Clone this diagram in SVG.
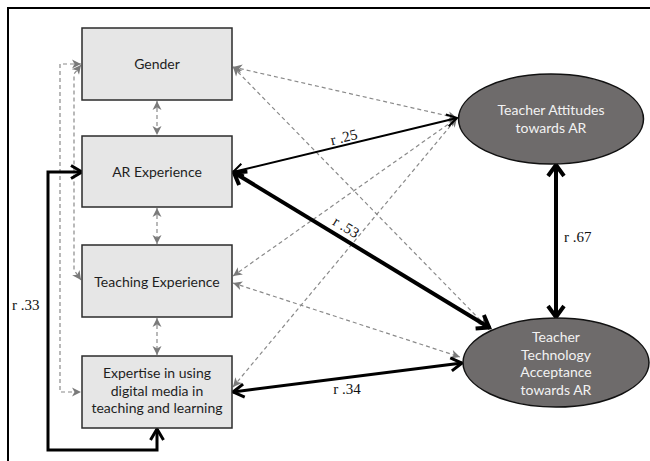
<svg xmlns="http://www.w3.org/2000/svg" width="650" height="461" viewBox="0 0 650 461">
  <style>
    .box { fill: #e6e6e6; stroke: #2b2b2b; stroke-width: 1.5; }
    .oval { fill: #6e6b6b; stroke: #111; stroke-width: 1.5; }
    .lbl { font-family: Lato, "Liberation Sans", sans-serif; font-size: 14px; fill: #1e1e1e; text-anchor: middle; }
    .olbl { font-family: Lato, "Liberation Sans", sans-serif; font-size: 14px; fill: #f2f2f2; text-anchor: middle; }
    .r { font-family: "Liberation Serif", serif; font-size: 15px; fill: #111; }
    .dash { fill: none; stroke: #8a8a8a; stroke-width: 1.2; stroke-dasharray: 4 3; marker-start: url(#gh); marker-end: url(#gh); }
    .solid { fill: none; stroke: #000; }
  </style>
  <defs>
    <marker id="gh" markerUnits="userSpaceOnUse" viewBox="-10 -6 12 12" refX="0" refY="0" markerWidth="12" markerHeight="12" orient="auto-start-reverse">
      <path d="M-9,-4.5 L0,0 L-9,4.5 L-6.5,0 Z" fill="#7a7a7a"/>
    </marker>
    <marker id="a2" markerUnits="userSpaceOnUse" viewBox="-14 -10 18 20" refX="0" refY="0" markerWidth="18" markerHeight="20" orient="auto-start-reverse">
      <path d="M-10,-6 L0,0 L-10,6" fill="none" stroke="#000" stroke-width="2"/>
    </marker>
    <marker id="a3" markerUnits="userSpaceOnUse" viewBox="-14 -10 18 20" refX="0" refY="0" markerWidth="18" markerHeight="20" orient="auto-start-reverse">
      <path d="M-11,-6.5 L0,0 L-11,6.5" fill="none" stroke="#000" stroke-width="3"/>
    </marker>
    <marker id="a4" markerUnits="userSpaceOnUse" viewBox="-16 -12 20 24" refX="0" refY="0" markerWidth="20" markerHeight="24" orient="auto-start-reverse">
      <path d="M-12,-8 L-1,0 L-12,8" fill="none" stroke="#000" stroke-width="4"/>
    </marker>
  </defs>

  <rect width="650" height="461" fill="#fff"/>
  <!-- frame -->
  <rect x="8" y="8" width="700" height="500" fill="none" stroke="#000" stroke-width="2"/>

  <g id="connectors">
    <!-- covariances among predictors -->
    <path class="dash" d="M157,101 V135"/>
    <path class="dash" d="M157,208 V244"/>
    <path class="dash" d="M157,318 V355"/>
    <path class="dash" d="M81,64 H60 V392 H81"/>
    <path class="dash" d="M81,65 L74,74 V270 L81,280"/>
    <!-- non-significant paths -->
    <path class="dash" d="M233,67 L457,118"/>
    <path class="dash" d="M233,67 L487,327"/>
    <path class="dash" d="M233,276 L457,118"/>
    <path class="dash" d="M233,283 L460,357"/>
    <path class="dash" d="M233,387 L457,118"/>
    <!-- significant correlations -->
    <path class="solid" d="M233,172 L457,118" stroke-width="2" marker-start="url(#a2)" marker-end="url(#a2)"/>
    <path class="solid" d="M233,172 L490,328" stroke-width="4" marker-start="url(#a4)" marker-end="url(#a4)"/>
    <path class="solid" d="M233,392 L462,363" stroke-width="3" marker-start="url(#a3)" marker-end="url(#a3)"/>
    <path class="solid" d="M556,164 V318" stroke-width="4" marker-start="url(#a4)" marker-end="url(#a4)"/>
    <path class="solid" d="M82,172 H48 V450 H157 V429" stroke-width="3" marker-start="url(#a3)" marker-end="url(#a3)"/>
    <!-- coefficients -->
    <text class="r" text-anchor="middle" transform="translate(345,142) rotate(-13.5)">r .25</text>
    <text class="r" text-anchor="middle" transform="translate(342,234) rotate(31)" y="-3">r .53</text>
    <text class="r" text-anchor="middle" x="347" y="394">r .34</text>
    <text class="r" x="564" y="242">r .67</text>
    <text class="r" x="12" y="310">r .33</text>
  </g>

  <g id="gender">
    <rect class="box" x="82" y="28" width="150" height="72"/>
    <text class="lbl" x="157" y="69">Gender</text>
  </g>
  <g id="ar-experience">
    <rect class="box" x="82" y="136" width="150" height="71"/>
    <text class="lbl" x="157" y="177">AR Experience</text>
  </g>
  <g id="teaching-experience">
    <rect class="box" x="82" y="245" width="150" height="72"/>
    <text class="lbl" x="157" y="287">Teaching Experience</text>
  </g>
  <g id="digital-expertise">
    <rect class="box" x="82" y="356" width="150" height="72"/>
    <text class="lbl" x="157" y="378">Expertise in using</text>
    <text class="lbl" x="157" y="396">digital media in</text>
    <text class="lbl" x="157" y="413">teaching and learning</text>
  </g>
  <g id="teacher-attitudes">
    <ellipse class="oval" cx="551" cy="119" rx="92.5" ry="45"/>
    <text class="olbl" x="551" y="115">Teacher Attitudes</text>
    <text class="olbl" x="551" y="133">towards AR</text>
  </g>
  <g id="technology-acceptance">
    <ellipse class="oval" cx="556" cy="362.5" rx="93" ry="44.5"/>
    <text class="olbl" x="556" y="342">Teacher</text>
    <text class="olbl" x="556" y="359.5">Technology</text>
    <text class="olbl" x="556" y="377">Acceptance</text>
    <text class="olbl" x="556" y="394.5">towards AR</text>
  </g>
</svg>
